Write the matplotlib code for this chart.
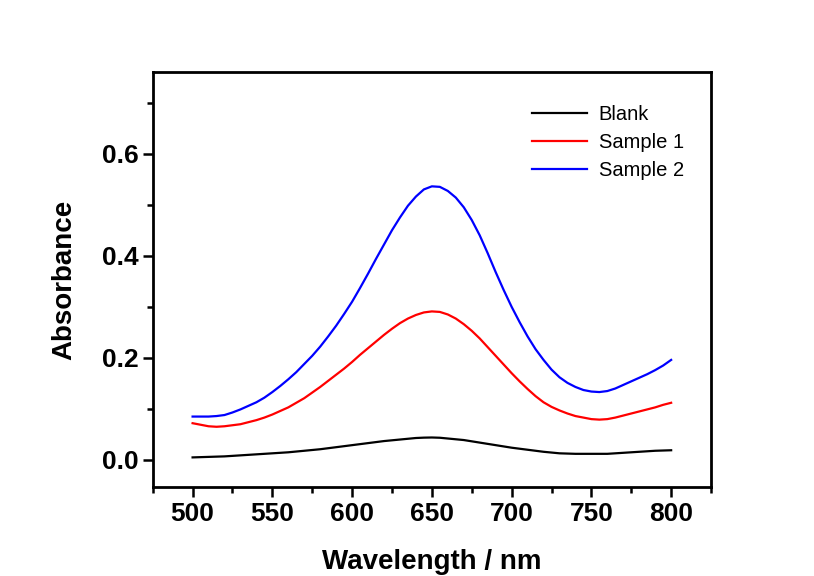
import numpy as np
import matplotlib
matplotlib.use("Agg")
import matplotlib.pyplot as plt
from matplotlib.ticker import MultipleLocator

# ==========================================
# Data (5 nm steps)
# ==========================================
wavelength = np.arange(500, 801, 5)

blank = [0.005, 0.0055, 0.006, 0.0065, 0.007, 0.008, 0.009, 0.010, 0.011, 0.012,
         0.013, 0.014, 0.015, 0.0165, 0.018, 0.0195, 0.021, 0.023, 0.025, 0.027,
         0.029, 0.031, 0.033, 0.035, 0.037, 0.0385, 0.040, 0.0415, 0.043, 0.0437,
         0.044, 0.0435, 0.042, 0.0405, 0.039, 0.0365, 0.034, 0.0315, 0.029, 0.0265,
         0.024, 0.022, 0.020, 0.018, 0.016, 0.0145, 0.013, 0.0125, 0.012, 0.012,
         0.012, 0.012, 0.012, 0.013, 0.014, 0.015, 0.016, 0.017, 0.018, 0.0185,
         0.019]

sample1 = [0.072, 0.069, 0.066, 0.065, 0.066, 0.068, 0.070, 0.074, 0.078, 0.083,
           0.089, 0.096, 0.103, 0.112, 0.121, 0.132, 0.143, 0.155, 0.167, 0.179,
           0.192, 0.206, 0.219, 0.232, 0.245, 0.257, 0.268, 0.277, 0.284, 0.289,
           0.291, 0.290, 0.285, 0.277, 0.266, 0.253, 0.238, 0.221, 0.204, 0.187,
           0.170, 0.154, 0.139, 0.125, 0.113, 0.104, 0.097, 0.091, 0.086, 0.083,
           0.080, 0.079, 0.080, 0.083, 0.087, 0.091, 0.095, 0.099, 0.103, 0.108,
           0.112]

sample2 = [0.085, 0.085, 0.085, 0.086, 0.088, 0.093, 0.099, 0.106, 0.113, 0.122,
           0.133, 0.145, 0.158, 0.172, 0.188, 0.204, 0.222, 0.242, 0.263, 0.286,
           0.310, 0.337, 0.365, 0.394, 0.422, 0.450, 0.475, 0.498, 0.516, 0.530,
           0.536, 0.535, 0.527, 0.514, 0.495, 0.470, 0.440, 0.405, 0.368, 0.333,
           0.300, 0.270, 0.242, 0.217, 0.196, 0.177, 0.162, 0.151, 0.143, 0.137,
           0.134, 0.133, 0.135, 0.140, 0.147, 0.154, 0.161, 0.168, 0.176, 0.185,
           0.196]

series_labels = ["Blank", "Sample 1", "Sample 2"]
series_colors = ["black", "#FF0000", "#0000FF"]

# ==========================================
# Plot
# ==========================================
plt.rcParams['font.family'] = ['Liberation Sans', 'DejaVu Sans']

fig = plt.figure(figsize=(8.14, 5.76), dpi=100)
ax = fig.add_axes([0.1876, 0.1545, 0.6859, 0.7205])

for ys, lab, col in zip([blank, sample1, sample2], series_labels, series_colors):
    ax.plot(wavelength, ys, color=col, lw=1.6, label=lab)

ax.set_xlim(475, 825)
ax.set_ylim(-0.053, 0.76)
ax.xaxis.set_major_locator(MultipleLocator(50))
ax.xaxis.set_minor_locator(MultipleLocator(25))
ax.yaxis.set_major_locator(MultipleLocator(0.2))
ax.yaxis.set_minor_locator(MultipleLocator(0.1))
ax.yaxis.set_major_formatter(plt.FuncFormatter(lambda v, p: f"{v:.1f}"))

for s in ax.spines.values():
    s.set_linewidth(2.0)
ax.tick_params(which='major', direction='out', length=7, width=1.8,
               labelsize=19, top=False, right=False)
ax.tick_params(which='minor', direction='out', length=4, width=1.8,
               top=False, right=False)
ax.tick_params(axis='x', which='major', pad=4)
ax.tick_params(axis='y', which='major', pad=3)
for t in ax.get_xticklabels() + ax.get_yticklabels():
    t.set_fontweight('bold')

ax.set_xlabel("Wavelength / nm", fontsize=20, fontweight='bold', labelpad=16)
ax.set_ylabel("Absorbance", fontsize=20, fontweight='bold', labelpad=18)

ax.legend(loc='upper left', bbox_to_anchor=(0.680, 0.921), frameon=False,
          fontsize=14.5, handlelength=2.7, handletextpad=0.6,
          labelspacing=0.45, borderpad=0, borderaxespad=0)

fig.savefig("out.png", dpi=100, facecolor='white')
